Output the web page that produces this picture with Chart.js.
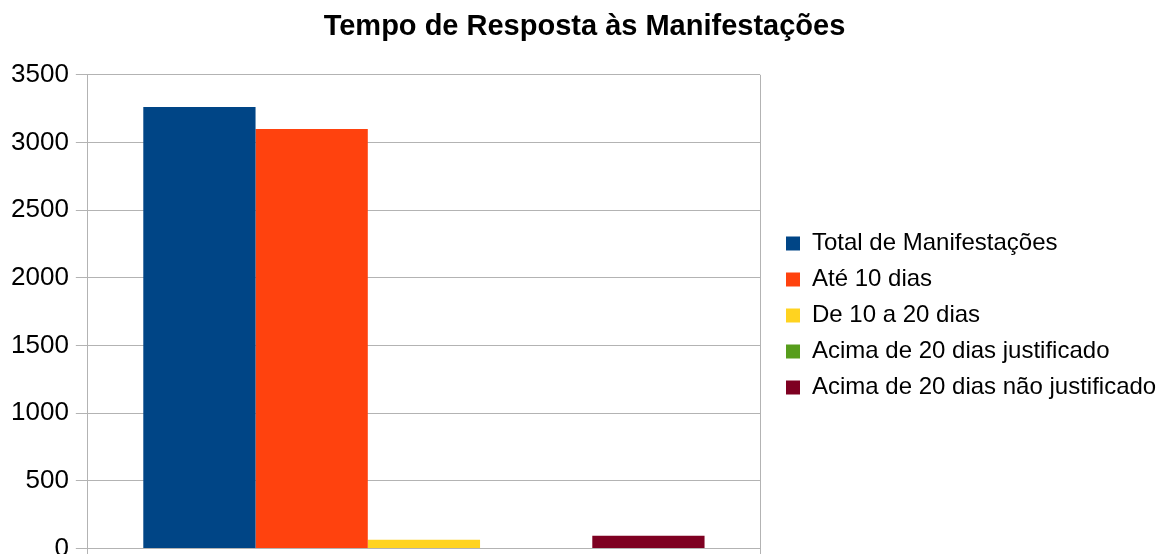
<!DOCTYPE html>
<html lang="pt">
<head>
<meta charset="UTF-8">
<title>Tempo de Resposta às Manifestações</title>
<script src="https://cdn.jsdelivr.net/npm/chart.js"></script>
<style>
  html, body { margin: 0; padding: 0; background: #fff; overflow: hidden; }
  #wrap { width: 1165px; height: 554px; overflow: hidden; }
</style>
</head>
<body>
<div id="wrap"><canvas id="chart" width="1165" height="571"></canvas></div>
<script>
var categories = [''];
var seriesNames = ['Total de Manifestações', 'Até 10 dias', 'De 10 a 20 dias', 'Acima de 20 dias justificado', 'Acima de 20 dias não justificado'];
var seriesValues = [[3262], [3100], [64], [0], [94]];
var seriesColors = ['#004586', '#ff420e', '#ffd320', '#579d1c', '#7e0021'];
var yTicks = [0, 500, 1000, 1500, 2000, 2500, 3000, 3500];

var datasets = seriesNames.map(function (name, i) {
  return {
    label: name,
    data: seriesValues[i],
    backgroundColor: seriesColors[i],
    borderWidth: 0,
    barPercentage: 1,
    categoryPercentage: 0.835
  };
});

var fam = '"Liberation Sans", Arial, sans-serif';
var gridColor = '#b3b3b3';

// legend on the right gets only a quarter of the width by default, widen it
var legendWidth = 405;
var legendShiftX = 14;
var legendShiftY = 30;
var legendFix = {
  id: 'legendFix',
  beforeLayout: function (chart) {
    var lg = chart.legend;
    if (!lg || lg._fixed) return;
    var fit = lg.fit;
    lg.fit = function () {
      fit.call(this);
      this.width = legendWidth;
    };
    lg._fixed = true;
  },
  afterLayout: function (chart) {
    if (!chart.legend) return;
    chart.legend.left += legendShiftX;
    chart.legend.top += legendShiftY;
    chart.legend.bottom += legendShiftY;
  }
};

new Chart(document.getElementById('chart'), {
  type: 'bar',
  data: { labels: categories, datasets: datasets },
  plugins: [legendFix],
  options: {
    responsive: false,
    animation: false,
    layout: { padding: { left: 4, right: 0, top: 0, bottom: 0 } },
    plugins: {
      title: {
        display: true,
        text: 'Tempo de Resposta às Manifestações',
        color: '#000',
        font: { family: fam, size: 29, weight: 'bold' },
        padding: { top: 10, bottom: 30 }
      },
      legend: {
        position: 'right',
        align: 'center',
        labels: {
          color: '#000',
          font: { family: fam, size: 24 },
          boxWidth: 14,
          boxHeight: 14,
          padding: 12
        }
      },
      tooltip: { enabled: false }
    },
    scales: {
      x: {
        grid: { color: gridColor, lineWidth: 1, tickLength: 8 },
        border: { color: gridColor },
        ticks: { display: false }
      },
      y: {
        min: yTicks[0],
        max: yTicks[yTicks.length - 1],
        afterBuildTicks: function (axis) {
          axis.ticks = yTicks.map(function (v) { return { value: v }; });
        },
        grid: { color: gridColor, lineWidth: 1, tickLength: 12 },
        border: { color: gridColor },
        ticks: {
          color: '#000',
          font: { family: fam, size: 26 },
          padding: 7,
          callback: function (v) { return String(v); }
        }
      }
    }
  }
});
</script>
</body>
</html>
